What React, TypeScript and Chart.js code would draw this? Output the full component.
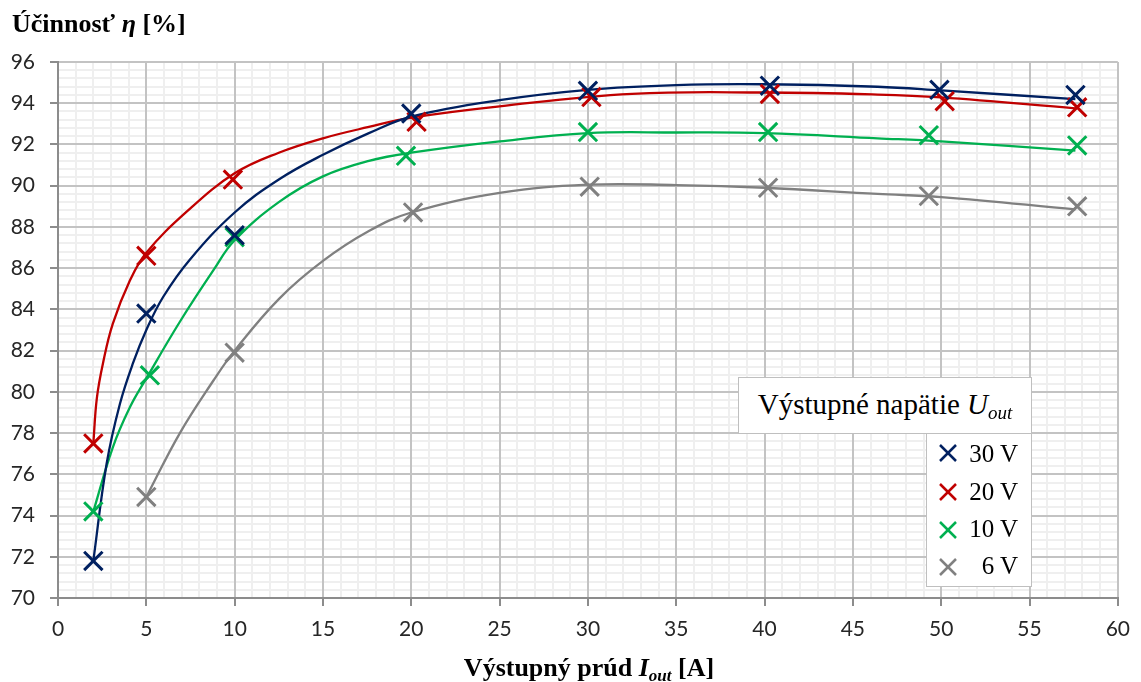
import React, { useEffect, useRef } from "react";
import { Chart, registerables } from "chart.js";

Chart.register(...registerables);

// ---- Axis settings ----
const X_MIN = 0;
const X_MAX = 60;
const X_STEP = 5;
const X_MINOR_STEP = 1;
const Y_MIN = 70;
const Y_MAX = 96;
const Y_STEP = 2;
const Y_MINOR_STEP = 0.4;

// ---- Measured points (markers) ----
const I30 = [2, 5, 10, 20, 30, 40.3, 49.9, 57.6];
const E30 = [71.8, 83.8, 87.6, 93.5, 94.6, 94.85, 94.65, 94.4];
const I20 = [2, 5, 9.9, 20.3, 30.2, 40.3, 50.2, 57.7];
const E20 = [77.5, 86.6, 90.3, 93.1, 94.3, 94.45, 94.1, 93.8];
const I10 = [2, 5.2, 10, 19.7, 30, 40.2, 49.3, 57.7];
const E10 = [74.2, 80.8, 87.5, 91.45, 92.6, 92.6, 92.45, 91.95];
const I6 = [5, 10, 20.1, 30.1, 40.2, 49.3, 57.7];
const E6 = [74.9, 81.9, 88.7, 89.95, 89.9, 89.5, 89.0];

// ---- Trend curves ----
const T30_X = [2, 2.75, 3.5, 4.25, 5, 5.95, 7.45, 10, 12.5, 15, 17.6, 20, 25, 30, 35, 40, 46.4, 50, 57.6];
const T30_Y = [71.8, 76.5, 79.4, 81.4, 83.0, 84.6, 86.4, 88.7, 90.3, 91.5, 92.55, 93.35, 94.15, 94.65, 94.88, 94.92, 94.8, 94.62, 94.2];
const T20_X = [2, 2.2, 2.55, 3.1, 4.07, 5, 7.3, 10, 12.5, 15, 17.6, 20, 25, 32.5, 40, 46.4, 50, 57.6];
const T20_Y = [77.5, 79.7, 81.4, 83.3, 85.4, 86.75, 88.75, 90.6, 91.6, 92.3, 92.85, 93.3, 93.85, 94.45, 94.52, 94.42, 94.28, 93.75];
const T10_X = [2, 3.1, 4.07, 5, 6.9, 8.8, 10, 12.5, 15, 17.6, 20, 25, 30, 35, 40, 46.4, 50, 57.6];
const T10_Y = [74.2, 77.3, 79.25, 80.65, 83.4, 85.9, 87.35, 89.2, 90.45, 91.2, 91.6, 92.15, 92.55, 92.58, 92.55, 92.3, 92.15, 91.7];
const T6_X = [5, 6.9, 8.8, 10, 12.5, 15, 17.6, 20, 25, 30, 35, 40, 46.4, 50, 57.6];
const T6_Y = [74.9, 78.0, 80.55, 82.0, 84.5, 86.35, 87.8, 88.7, 89.65, 90.05, 90.03, 89.9, 89.6, 89.45, 88.85];

// ---- Series labels & colours ----
const SERIES_LABELS = ["30 V", "20 V", "10 V", " 6 V"];
const SERIES_COLORS = ["#002060", "#C00000", "#00B050", "#808080"];

const POINTS_X = [I30, I20, I10, I6];
const POINTS_Y = [E30, E20, E10, E6];
const TREND_X = [T30_X, T20_X, T10_X, T6_X];
const TREND_Y = [T30_Y, T20_Y, T10_Y, T6_Y];

const zip = (xs: number[], ys: number[]) => xs.map((x, i) => ({ x, y: ys[i] }));

const TICK_FONT = { family: "Lato, 'Open Sans', sans-serif", size: 21 };
const SERIF = "'Liberation Serif', 'Times New Roman', serif";

function isMultiple(v: number, step: number) {
  const r = v / step;
  return Math.abs(r - Math.round(r)) < 1e-6;
}

export default function App() {
  const canvasRef = useRef<HTMLCanvasElement | null>(null);

  useEffect(() => {
    const canvas = canvasRef.current;
    if (!canvas) return;

    const datasets: any[] = [];
    SERIES_LABELS.forEach((label, i) => {
      datasets.push({
        label: label + " marker",
        data: zip(POINTS_X[i], POINTS_Y[i]),
        showLine: false,
        pointStyle: "crossRot",
        pointRadius: 13,
        pointHoverRadius: 13,
        pointBorderWidth: 3,
        pointBorderColor: SERIES_COLORS[i],
        pointBackgroundColor: SERIES_COLORS[i],
        borderColor: SERIES_COLORS[i],
      });
    });
    SERIES_LABELS.forEach((label, i) => {
      datasets.push({
        label: label + " trend",
        data: zip(TREND_X[i], TREND_Y[i]),
        showLine: true,
        pointRadius: 0,
        pointHoverRadius: 0,
        borderColor: SERIES_COLORS[i],
        borderWidth: 2.3,
        fill: false,
        tension: 0.4,
      });
    });

    const chart = new Chart(canvas, {
      type: "scatter",
      data: { datasets },
      options: {
        responsive: false,
        animation: false,
        devicePixelRatio: 1,
        events: [],
        layout: { padding: { top: 62, right: 21, bottom: 34, left: 0 } },
        plugins: {
          legend: { display: false },
          tooltip: { enabled: false },
          title: { display: false },
        },
        scales: {
          x: {
            type: "linear",
            position: "bottom",
            min: X_MIN,
            max: X_MAX,
            ticks: {
              stepSize: X_STEP,
              font: TICK_FONT,
              color: "#262626",
              padding: 11,
              autoSkip: false,
              maxRotation: 0,
            },
            grid: {
              color: "#c3c3c3",
              lineWidth: 2,
              tickLength: 8,
              tickColor: "#8c8c8c",
              tickWidth: 2,
            },
            border: { display: true, color: "#8c8c8c", width: 2 },
            afterFit: (s: any) => {
              s.height = 50;
            },
          },
          y: {
            type: "linear",
            position: "left",
            min: Y_MIN,
            max: Y_MAX,
            ticks: {
              stepSize: Y_STEP,
              font: TICK_FONT,
              color: "#262626",
              padding: 15,
              autoSkip: false,
            },
            grid: {
              color: "#c3c3c3",
              lineWidth: 2,
              tickLength: 8,
              tickColor: "#8c8c8c",
              tickWidth: 2,
            },
            border: { display: true, color: "#8c8c8c", width: 2 },
            afterFit: (s: any) => {
              s.width = 58;
            },
          },
          xMinor: {
            type: "linear",
            position: "bottom",
            min: X_MIN,
            max: X_MAX,
            ticks: { display: false, stepSize: X_MINOR_STEP },
            grid: {
              z: -2,
              drawTicks: false,
              lineWidth: 2,
              color: (ctx: any) =>
                ctx.tick && isMultiple(ctx.tick.value, X_STEP) ? "rgba(0,0,0,0)" : "#efefef",
            },
            border: { display: false },
            afterFit: (s: any) => {
              s.height = 0;
            },
          },
          yMinor: {
            type: "linear",
            position: "left",
            min: Y_MIN,
            max: Y_MAX,
            ticks: { display: false, stepSize: Y_MINOR_STEP },
            grid: {
              z: -2,
              drawTicks: false,
              lineWidth: 2,
              color: (ctx: any) =>
                ctx.tick && isMultiple(ctx.tick.value - Y_MIN, Y_STEP) ? "rgba(0,0,0,0)" : "#efefef",
            },
            border: { display: false },
            afterFit: (s: any) => {
              s.width = 0;
            },
          },
        },
      } as any,
    });

    return () => {
      chart.destroy();
    };
  }, []);

  const rowBaselines = [462, 500, 537, 574];
  const markerCenters = [453, 492, 530, 567];

  return (
    <div
      style={{
        position: "absolute",
        left: 0,
        top: 0,
        width: 1141,
        height: 682,
        background: "#fff",
        overflow: "hidden",
      }}
    >
      <canvas ref={canvasRef} width={1141} height={682} style={{ position: "absolute", left: 0, top: 0 }} />

      {/* Y axis title */}
      <div
        style={{
          position: "absolute",
          left: 12,
          top: 11,
          font: `bold 26px ${SERIF}`,
          lineHeight: "26px",
          whiteSpace: "nowrap",
          color: "#000",
        }}
      >
        Účinnosť <i>η</i> [%]
      </div>

      {/* X axis title */}
      <div
        style={{
          position: "absolute",
          left: 58,
          width: 1062,
          top: 655,
          textAlign: "center",
          font: `bold 26px ${SERIF}`,
          lineHeight: "26px",
          whiteSpace: "nowrap",
          color: "#000",
        }}
      >
        Výstupný prúd <i>I</i>
        <i style={{ fontSize: 17, position: "relative", top: 5 }}>out</i> [A]
      </div>

      {/* Legend title box */}
      <div
        style={{
          position: "absolute",
          left: 738,
          top: 377,
          width: 294,
          height: 57,
          boxSizing: "border-box",
          border: "1.5px solid #bfbfbf",
          background: "#fff",
          font: `29px ${SERIF}`,
          lineHeight: "52px",
          textAlign: "center",
          whiteSpace: "nowrap",
          color: "#000",
        }}
      >
        Výstupné napätie <i>U</i>
        <i style={{ fontSize: 19, position: "relative", top: 5 }}>out</i>
      </div>

      {/* Legend entries box */}
      <div
        style={{
          position: "absolute",
          left: 926,
          top: 433,
          width: 106,
          height: 154,
          boxSizing: "border-box",
          border: "1.5px solid #bfbfbf",
          background: "#fff",
        }}
      />
      {SERIES_LABELS.map((label, i) => (
        <React.Fragment key={label}>
          <svg
            width={18}
            height={18}
            style={{ position: "absolute", left: 948 - 9, top: markerCenters[i] - 9 }}
          >
            <line x1={1} y1={1} x2={17} y2={17} stroke={SERIES_COLORS[i]} strokeWidth={2.5} />
            <line x1={17} y1={1} x2={1} y2={17} stroke={SERIES_COLORS[i]} strokeWidth={2.5} />
          </svg>
          <div
            style={{
              position: "absolute",
              left: 958,
              width: 60,
              top: rowBaselines[i] - 21,
              textAlign: "right",
              font: `25px ${SERIF}`,
              lineHeight: "25px",
              whiteSpace: "pre",
              color: "#000",
            }}
          >
            {label}
          </div>
        </React.Fragment>
      ))}
    </div>
  );
}
